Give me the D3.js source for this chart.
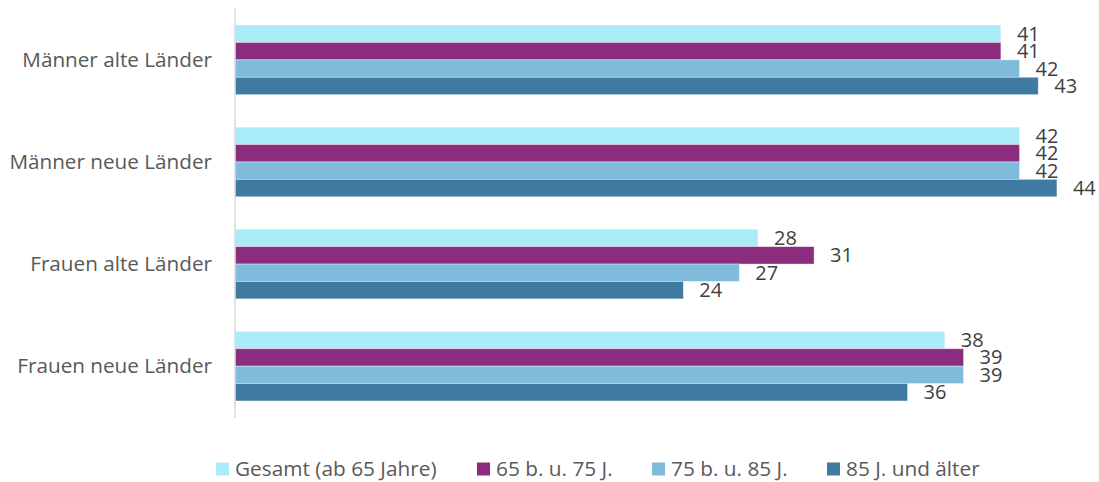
<!DOCTYPE html>
<html><head><meta charset="utf-8">
<script src="https://cdn.jsdelivr.net/npm/d3@7"></script>
<style>body{margin:0;background:#fff}svg{display:block}</style>
</head><body><svg id="c" width="1099" height="482"></svg>
<script>
const categories = ["Männer alte Länder","Männer neue Länder","Frauen alte Länder","Frauen neue Länder"];
const seriesNames = ["Gesamt (ab 65 Jahre)","65 b. u. 75 J.","75 b. u. 85 J.","85 J. und älter"];
const gesamt = [41,42,28,38];
const s65_75 = [41,42,31,39];
const s75_85 = [42,42,27,39];
const s85 = [43,44,24,36];
const seriesValues = [gesamt, s65_75, s75_85, s85];
const colors = ["#A9EBF7","#8B2C7E","#7FBCDC","#3F7BA0"];

const svg = d3.select("#c");
const font = "'Open Sans', sans-serif";
const textColor = "#595959";
const x = d3.scaleLinear().domain([0,45]).range([235, 235+45*18.68]);
const y0 = d3.scaleBand().domain(categories).range([8.8, 417.2]).paddingInner(0.3182).paddingOuter(0.1591);
const yi = d3.scaleBand().domain(d3.range(4)).range([0, y0.bandwidth()]);

categories.forEach((c,ci)=>{
  const g = svg.append("g").attr("transform",`translate(0,${y0(c)})`);
  seriesValues.forEach((vals,si)=>{
    g.append("rect").attr("x",x(0)).attr("y",yi(si)).attr("width",x(vals[ci])-x(0)).attr("height",yi.bandwidth())
      .attr("fill",colors[si]).attr("stroke","rgba(255,255,255,0.5)").attr("stroke-width",0.75);
    g.append("text").attr("x",x(vals[ci])+16).attr("y",yi(si)+yi.bandwidth()/2).attr("dy","0.35em")
      .attr("font-family",font).attr("font-size",20).attr("fill","#404040").text(vals[ci]);
  });
  svg.append("text").attr("x",212).attr("y",y0(c)+y0.bandwidth()/2).attr("dy","0.35em").attr("text-anchor","end")
    .attr("font-family",font).attr("font-size",20.7).attr("fill",textColor).text(c);
});
svg.append("line").attr("x1",x(0)).attr("x2",x(0)).attr("y1",8).attr("y2",418).attr("stroke","#d9d9d9").attr("stroke-width",1.5);

const legendX = [216, 477, 652, 827];
seriesNames.forEach((n,i)=>{
  svg.append("rect").attr("x",legendX[i]).attr("y",462.5).attr("width",13).attr("height",13).attr("fill",colors[i]);
  svg.append("text").attr("x",legendX[i]+19).attr("y",469).attr("dy","0.35em").attr("font-family",font)
    .attr("font-size",20.8).attr("fill",textColor).text(n);
});
</script></body></html>
